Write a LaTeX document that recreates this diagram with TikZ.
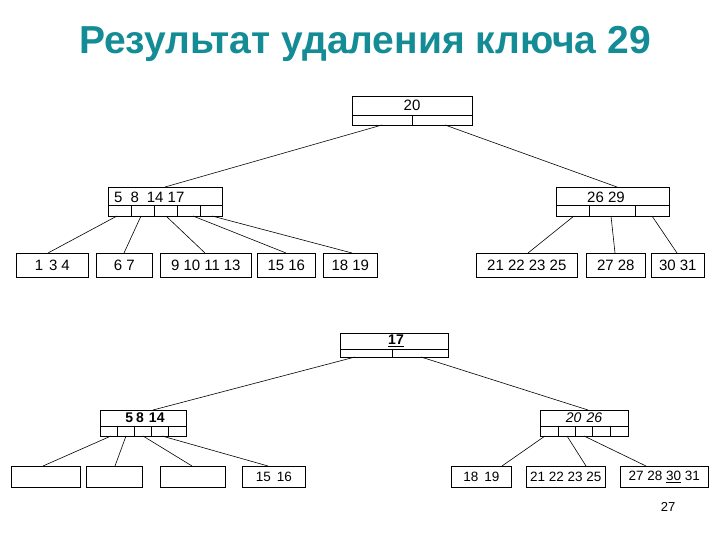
\documentclass[tikz,border=0pt]{standalone}
\usepackage{fontspec}
\setmainfont{Liberation Sans}
\definecolor{teal1}{RGB}{20,140,150}
\begin{document}
\begin{tikzpicture}[x=1pt,y=-1pt,
  box/.style={draw,line width=0.6pt,inner sep=0pt,font=\fontsize{15}{16}\selectfont},
  sbox/.style={box,font=\fontsize{13.5}{15}\selectfont},
  lbl/.style={font=\fontsize{15}{16}\selectfont,inner sep=0pt},
  edge/.style={line width=0.6pt}]
\useasboundingbox (0,0) rectangle (720,540);
\node[font=\bfseries\fontsize{39}{42}\selectfont,text=teal1] (title) at (365,44) {Результат удаления ключа 29};
\newcommand{\leaf}[6]{\node[box,minimum width=#3-#2,minimum height=#5-#4,anchor=north west] (#1) at (#2,#4) {#6};}
\newcommand{\sleaf}[6]{\node[sbox,minimum width=#3-#2,minimum height=#5-#4,anchor=north west] (#1) at (#2,#4) {#6};}
\newcommand{\inner}[6]{\node[box,minimum width=#3-#2,minimum height=#5-#4,anchor=north west] (#1) at (#2,#4) {};
  \draw[edge] (#2,#6) -- (#3,#6);}
% ---- top tree
\inner{r1}{352}{472}{96}{125}{115}
\node[lbl] (r1t) at (412,105) {20};
\draw[edge] (412,115) -- (412,125);
\inner{a1}{108}{222}{187}{216}{205}
\node[lbl,anchor=west] (a1t) at (114,197) {5\hspace{8pt}8\hspace{8pt}14 17};
\foreach \x in {131,154,177,200} \draw[edge] (\x,205) -- (\x,216);
\inner{b1}{556}{669}{187}{216}{205}
\node[lbl] (b1t) at (606,197) {26 29};
\foreach \x in {589,635} \draw[edge] (\x,205) -- (\x,216);
\leaf{l1}{16}{88}{253}{277}{1\hspace{6pt}3\hspace{4pt}4}
\leaf{l2}{96}{152}{253}{277}{6\hspace{4pt}7}
\leaf{l3}{160}{251}{253}{277}{9 10\hspace{4pt}11\hspace{4pt}13}
\leaf{l4}{257}{315}{253}{277}{15\hspace{4pt}16}
\leaf{l5}{323}{377}{253}{277}{18\hspace{4pt}19}
\leaf{l6}{476}{577}{253}{277}{21 22 23 25}
\leaf{l7}{586}{645}{253}{277}{27 28}
\leaf{l8}{651}{704}{253}{277}{30\hspace{4pt}31}
\draw[edge] (382,125) -- (165,187);
\draw[edge] (445,125) -- (617,187);
\draw[edge] (117,216) -- (48,253);
\draw[edge] (141,216) -- (124,253);
\draw[edge] (166,216) -- (205,253);
\draw[edge] (193,216) -- (286,253);
\draw[edge] (212,216) -- (352,253);
\draw[edge] (574,216) -- (528,253);
\draw[edge] (611,216) -- (615,253);
\draw[edge] (652,216) -- (677,253);
% ---- bottom tree
\inner{r2}{340}{448}{333}{357}{349}
\node[lbl,font=\bfseries\fontsize{14}{16}\selectfont] (r2t) at (396,341) {\underline{17}};
\draw[edge] (392,349) -- (392,357);
\inner{a2}{100}{186}{410}{436}{426}
\node[lbl,font=\bfseries\fontsize{14}{16}\selectfont] (a2t) at (145,418) {5\hspace{3pt}8\hspace{5pt}14};
\foreach \x in {117,134,151,168} \draw[edge] (\x,426) -- (\x,436);
\inner{b2}{540}{628}{410}{436}{426}
\node[lbl,font=\itshape\fontsize{14}{16}\selectfont] (b2t) at (584,418) {20\hspace{5pt}26};
\foreach \x in {558,575,592,610} \draw[edge] (\x,426) -- (\x,436);
\sleaf{m1}{11}{80}{466}{487}{}
\sleaf{m2}{86}{142}{466}{487}{}
\sleaf{m3}{160}{225}{466}{487}{}
\sleaf{m4}{242}{305}{466}{487}{15\hspace{6pt}16}
\sleaf{m5}{451}{511}{466}{487}{18\hspace{6pt}19}
\sleaf{m6}{526}{605}{466}{487}{21 22 23 25}
\sleaf{m7}{620}{708}{466}{487}{27 28 \underline{30} 31}
\draw[edge] (355,357) -- (153,410);
\draw[edge] (421,357) -- (588,410);
\draw[edge] (111,436) -- (43,466);
\draw[edge] (126,436) -- (115,466);
\draw[edge] (143,436) -- (192,466);
\draw[edge] (162,436) -- (268,466);
\draw[edge] (545,436) -- (502,466);
\draw[edge] (567,436) -- (586,466);
\draw[edge] (584,436) -- (646,466);
\node[font=\fontsize{13}{14}\selectfont] (pg) at (668,507) {27};
\end{tikzpicture}
\end{document}
